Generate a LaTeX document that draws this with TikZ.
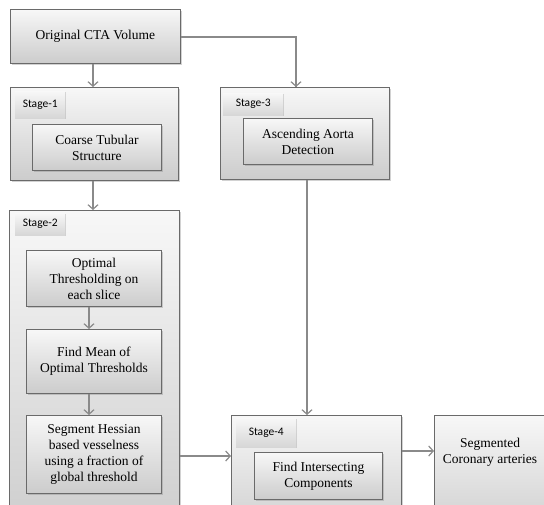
\documentclass[tikz,border=0pt]{standalone}
\usepackage{fontspec}
\setmainfont{Liberation Serif}
\newfontfamily\stagefont{Carlito}
\usetikzlibrary{arrows.meta,shadows}
\definecolor{edgegray}{HTML}{6A6A6A}
\definecolor{linegray}{HTML}{8A8A8A}
\tikzset{
  box/.style={draw=edgegray, line width=0.9pt, top color=gray!6, bottom color=gray!40,
    drop shadow={shadow xshift=1.5pt, shadow yshift=-1.5pt, opacity=0.35, fill=gray},
    anchor=north west, inner sep=0pt, align=center,
    font=\fontsize{13.5}{16}\selectfont},
  lbl/.style={draw=none, top color=gray!6, bottom color=gray!32,
    drop shadow={shadow xshift=1.2pt, shadow yshift=-1.2pt, opacity=0.3, fill=gray},
    anchor=north west, inner sep=0pt, font=\stagefont\fontsize{11.5}{13}\selectfont},
  conn/.style={draw=linegray, line width=1.4pt,
    -{Straight Barb[length=4.5pt,width=10pt,line width=1.2pt]}},
  plain/.style={draw=linegray, line width=1.4pt}
}
\newcommand{\bx}[6]{% name, x1, y1, x2, y2, text
  \node[box, minimum width={(#4-#2)*1pt}, minimum height={(#5-#3)*1pt}] (#1) at (#2,#3) {#6};}
\newcommand{\lb}[6]{%
  \node[lbl, minimum width={(#4-#2)*1pt}, minimum height={(#5-#3)*1pt}] (#1) at (#2,#3) {#6};}
\begin{document}
\begin{tikzpicture}[x=1pt,y=-1pt]
\useasboundingbox (0,0) rectangle (544,504);
\clip (0,0) rectangle (544,504);
\fill[white] (0,0) rectangle (544,504);
% top
\bx{cta}{10}{9}{180}{63}{Original CTA Volume}
% stage 1
\bx{s1}{10}{87}{178}{180}{}
\lb{l1}{15}{91}{65}{118}{Stage-1}
\bx{coarse}{32}{124}{161}{170}{Coarse Tubular\\Structure}
% stage 3
\bx{s3}{220}{87}{389}{179}{}
\lb{l3}{223}{93}{283}{115}{Stage-3}
\bx{aorta}{243}{118}{372}{164}{Ascending Aorta\\Detection}
% stage 2
\bx{s2}{9}{210}{179}{540}{}
\lb{l2}{15}{213}{65}{235}{Stage-2}
\bx{opt}{26}{250}{161}{306}{Optimal\\Thresholding on\\each slice}
\bx{mean}{26}{329}{161}{393}{Find Mean of\\Optimal Thresholds}
\bx{hess}{26}{415}{161}{493}{Segment Hessian\\based vesselness\\using a fraction of\\global threshold}
% stage 4
\bx{s4}{231}{415}{401}{540}{}
\lb{l4}{236}{418}{296}{447}{Stage-4}
\bx{inter}{254}{452}{382}{499}{Find Intersecting\\Components}
% output
\bx{seg}{434}{415}{560}{540}{}
\node[font=\fontsize{13.5}{16}\selectfont, align=center] (segtxt) at (490,452) {Segmented\\Coronary arteries};
% connectors
\coordinate (c1) at (93,0);
\draw[conn] (cta.south -| c1) -- (s1.north -| c1);
\coordinate (c3) at (296,0);
\draw[plain] (cta.east |- 0,37) -| (c3 |- s3.north) ;
\draw[conn] (c3 |- 0,60) -- (c3 |- s3.north);
\draw[conn] (s1.south -| c1) -- (s2.north -| c1);
\coordinate (c2) at (89,0);
\draw[conn] (opt.south -| c2) -- (mean.north -| c2);
\draw[conn] (mean.south -| c2) -- (hess.north -| c2);
\coordinate (c4) at (307,0);
\draw[conn] (s3.south -| c4) -- (s4.north -| c4);
\coordinate (r1) at (0,456);
\draw[conn] (s2.east |- r1) -- (s4.west |- r1);
\coordinate (r2) at (0,451);
\draw[conn] (s4.east |- r2) -- (seg.west |- r2);
\end{tikzpicture}
\end{document}
